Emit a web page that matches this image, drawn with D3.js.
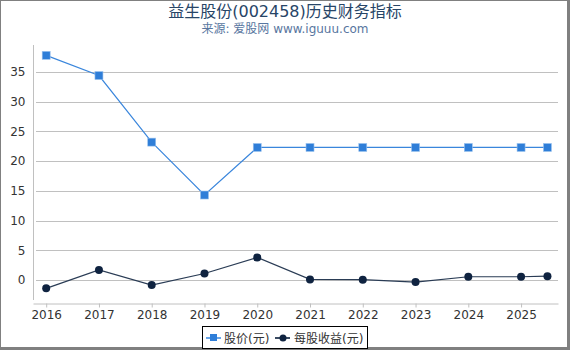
<!DOCTYPE html>
<html><head><meta charset="utf-8">
<script src="https://cdn.jsdelivr.net/npm/d3@7/dist/d3.min.js"></script>
<style>
body{margin:0;background:#fff;}
svg{display:block;}
text{font-family:"DejaVu Sans","Noto Sans CJK SC",sans-serif;}
</style></head><body>
<svg id="c" width="570" height="350"></svg>
<script>
const years = [2016,2017,2018,2019,2020,2021,2022,2023,2024,2025,2025.5];
const price = [37.8,34.4,23.2,14.3,22.3,22.3,22.3,22.3,22.3,22.3,22.3];
const eps = [-1.4,1.7,-0.85,1.1,3.8,0.1,0.05,-0.35,0.55,0.55,0.65];
const xTicks = [2016,2017,2018,2019,2020,2021,2022,2023,2024,2025];
const yTicks = [0,5,10,15,20,25,30,35];
const title = "益生股份(002458)历史财务指标";
const subtitle = "来源: 爱股网 www.iguuu.com";
const seriesNames = ["股价(元)","每股收益(元)"];

const svg = d3.select("#c");
const W=570,H=350;
const L=33,R=558,T=45,B=303.5;
const x = d3.scaleLinear().domain([2015.75,2025.7]).range([L,R]);
const y = d3.scaleLinear().domain([-3.95,39.54]).range([B,T]);

// frame (thin top/left, thicker right/bottom)
svg.append("rect").attr("x",0).attr("y",0).attr("width",W).attr("height",H).attr("fill","#808080");
svg.append("rect").attr("x",1).attr("y",1).attr("width",W-4).attr("height",H-4).attr("fill","#fff");

svg.append("text").attr("x",285).attr("y",17).attr("text-anchor","middle")
  .attr("font-size",16).attr("fill","#274567").text(title);
svg.append("text").attr("x",285).attr("y",33).attr("text-anchor","middle")
  .attr("font-size",12).attr("fill","#5876a0").text(subtitle);

// grid
svg.append("g").selectAll("line").data(yTicks).join("line")
  .attr("x1",L+3).attr("x2",R).attr("y1",d=>Math.round(y(d))+0.5).attr("y2",d=>Math.round(y(d))+0.5)
  .attr("stroke","#c0c0c0").attr("stroke-width",1);

// y axis
const ya = svg.append("g").attr("transform",`translate(${L+0.5},0)`)
  .call(d3.axisLeft(y).tickValues(yTicks).tickSize(0).tickPadding(8));
ya.select(".domain").remove();
ya.selectAll("text").attr("font-size",12).attr("fill","#333").attr("font-family","DejaVu Sans");
svg.append("line").attr("x1",L+0.5).attr("x2",L+0.5).attr("y1",T).attr("y2",B-3.5)
  .attr("stroke","#c0c0c0");

// x axis
const xa = svg.append("g").attr("transform",`translate(0,${B})`)
  .call(d3.axisBottom(x).tickValues(xTicks).tickFormat(d3.format("d")).tickSize(4).tickSizeOuter(0).tickPadding(3));
xa.select(".domain").attr("stroke","#c0c0c0");
xa.selectAll(".tick line").attr("stroke","#c0c0c0");
xa.selectAll("text").attr("font-size",12).attr("fill","#333").attr("font-family","DejaVu Sans");

const pts1 = years.map((d,i)=>[d,price[i]]);
const pts2 = years.map((d,i)=>[d,eps[i]]);
const line = d3.line().x(d=>x(d[0])).y(d=>y(d[1]));

svg.append("path").attr("d",line(pts1)).attr("fill","none").attr("stroke","#3a86dc").attr("stroke-width",1.2);
svg.append("g").selectAll("rect").data(pts1).join("rect")
  .attr("x",d=>x(d[0])-4).attr("y",d=>y(d[1])-4).attr("width",8).attr("height",8)
  .attr("fill","#2f7ed8").attr("stroke","#9cc3ee").attr("stroke-width",0.6);

svg.append("path").attr("d",line(pts2)).attr("fill","none").attr("stroke","#2a3c55").attr("stroke-width",1.2);
svg.append("g").selectAll("circle").data(pts2).join("circle")
  .attr("cx",d=>x(d[0])).attr("cy",d=>y(d[1])).attr("r",4).attr("fill","#0f2340");

// legend
const lg = svg.append("g");
lg.append("rect").attr("x",202.5).attr("y",326.5).attr("width",165).attr("height",22)
  .attr("fill","#fff").attr("stroke","#000").attr("stroke-width",1);
lg.append("line").attr("x1",206).attr("x2",221).attr("y1",338).attr("y2",338).attr("stroke","#6aa6e8").attr("stroke-width",2);
lg.append("rect").attr("x",210).attr("y",334).attr("width",7).attr("height",7).attr("fill","#2f7ed8");
lg.append("text").attr("x",224).attr("y",342.5).attr("font-size",12).attr("fill","#333").text(seriesNames[0]);
lg.append("line").attr("x1",275).attr("x2",290).attr("y1",338).attr("y2",338).attr("stroke","#3a4b62").attr("stroke-width",2);
lg.append("circle").attr("cx",283).attr("cy",338).attr("r",3.5).attr("fill","#0f2340");
lg.append("text").attr("x",294).attr("y",342.5).attr("font-size",12).attr("fill","#333").text(seriesNames[1]);
</script>
</body></html>
